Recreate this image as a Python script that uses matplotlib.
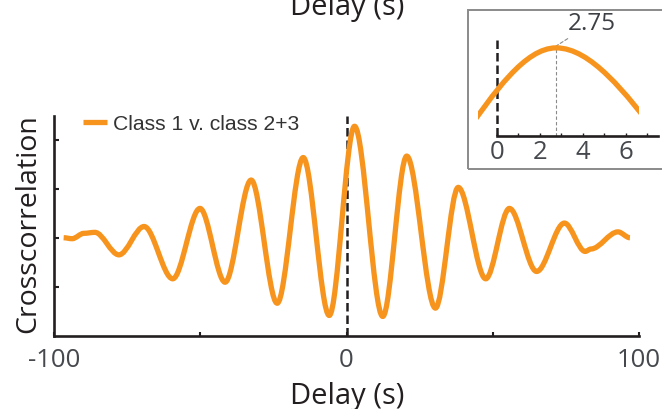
import matplotlib
matplotlib.use("Agg")
import matplotlib.pyplot as plt
from matplotlib.path import Path
from matplotlib.patches import PathPatch, Rectangle
from matplotlib.lines import Line2D

# Crosscorrelation extrema (delay in s, correlation value)
delay_s = [-96.7, -93.8, -89.8, -86.0, -77.8, -69.2, -59.4, -50.1, -41.5, -32.6,
           -23.7, -14.8, -5.9, 2.75, 12.4, 20.6, 30.4, 38.2, 47.6, 55.7,
           65.0, 74.5, 81.6, 83.6, 92.8, 96.9]
xcorr = [0.001, -0.001, 0.010, 0.012, -0.034, 0.024, -0.083, 0.061, -0.090, 0.119,
         -0.133, 0.165, -0.158, 0.229, -0.160, 0.168, -0.143, 0.104, -0.083, 0.061,
         -0.068, 0.031, -0.027, -0.022, 0.013, 0.001]

series_label = "Class 1 v. class 2+3"
peak_delay = 2.75
x_ticks = [-100, -50, 0, 50, 100]
x_tick_labels = ["-100", "", "0", "", "100"]
y_ticks = [-0.1, 0.0, 0.1, 0.2]
inset_ticks = [0, 1, 2, 3, 4, 5, 6, 7]
inset_tick_labels = ["0", "", "2", "", "4", "", "6", ""]

ORANGE = "#F7941D"
INK = "#231F20"
GREY_TXT = "#45484D"
SANS = ["Open Sans", "DejaVu Sans"]

W, H = 662, 410
fig = plt.figure(figsize=(W / 100, H / 100), dpi=100)


def fx(px):
    return px / W


def fy(py):
    return 1 - py / H


def smooth_path(xs, ys):
    """Cubic Bezier through the extrema with flat tangents at each one."""
    verts = [(xs[0], ys[0])]
    codes = [Path.MOVETO]
    for i in range(len(xs) - 1):
        h = xs[i + 1] - xs[i]
        verts += [(xs[i] + h / 3, ys[i]), (xs[i + 1] - h / 3, ys[i + 1]),
                  (xs[i + 1], ys[i + 1])]
        codes += [Path.CURVE4] * 3
    return Path(verts, codes)


# ---------------- main axes ----------------
ax = fig.add_axes([fx(54), fy(337), fx(639 - 54), (337 - 117) / H])
ax.set_xlim(-100, 100)
ax.set_ylim(-0.2, 0.25)
for s in ("top", "right"):
    ax.spines[s].set_visible(False)
for s in ("left", "bottom"):
    ax.spines[s].set_color(INK)
    ax.spines[s].set_linewidth(1.9)

ax.set_xticks(x_ticks)
ax.set_xticklabels(x_tick_labels, fontfamily=SANS, fontsize=18.5, color=GREY_TXT)
ax.set_yticks(y_ticks)
ax.set_yticklabels([])
ax.tick_params(axis="x", direction="in", length=2.8, width=1.5, color=INK, pad=8)
ax.tick_params(axis="y", direction="in", length=3.8, width=1.5, color=INK)

ax.axvline(0, color=INK, lw=1.8, linestyle=(0, (3.4, 1.6)), zorder=3)
ax.add_patch(PathPatch(smooth_path(delay_s, xcorr), transform=ax.transData,
                       fill=False, edgecolor=ORANGE, lw=3.8, joinstyle="round",
                       capstyle="butt", zorder=4))

proxy = Line2D([], [], color=ORANGE, lw=3.8, solid_capstyle="butt")
ax.legend([proxy], [series_label], loc="center left",
          bbox_to_anchor=(fx(83), fy(125)), bbox_transform=fig.transFigure,
          frameon=False, borderpad=0, borderaxespad=0, handlelength=1.15,
          handletextpad=0.29,
          prop={"family": ["Liberation Sans", "DejaVu Sans"], "size": 15.2},
          labelcolor="#333333")

fig.text(fx(28), fy(224), "Crosscorrelation", rotation=90, ha="center",
         va="center", fontfamily=SANS, fontsize=20.5, color=INK)
fig.text(fx(347.5), fy(404), "Delay (s)", ha="center", va="baseline",
         fontfamily=SANS, fontsize=21, color=INK)
# axis title of the panel above, cut by the figure edge
fig.text(fx(347.5), fy(15), "Delay (s)", ha="center", va="baseline",
         fontfamily=SANS, fontsize=21, color=INK)

# ---------------- inset around the peak ----------------
fig.patches.append(Rectangle((fx(468), fy(170)), 0.5, (170 - 11) / H,
                             transform=fig.transFigure, fill=False,
                             edgecolor="#8A8A8A", lw=1.4))

axins = fig.add_axes([fx(470.1), fy(137), fx(658.25 - 470.1), (137 - 38) / H])
axins.set_xlim(-1.25, 7.5)
axins.set_ylim(0.037, 0.2527)
axins.patch.set_alpha(0)
for s in ("top", "right", "left"):
    axins.spines[s].set_visible(False)
axins.spines["bottom"].set_bounds(0, 7.5)
axins.spines["bottom"].set_color(INK)
axins.spines["bottom"].set_linewidth(1.9)
axins.set_xticks(inset_ticks)
axins.set_xticklabels(inset_tick_labels, fontfamily=SANS, fontsize=18.5,
                      color=GREY_TXT)
axins.set_yticks([])
axins.tick_params(axis="x", direction="in", length=2.4, width=1.0, color=INK,
                  pad=2.5)

axins.axvline(0, color=INK, lw=1.8, linestyle=(0, (3.4, 1.6)), zorder=3)
peak_val = xcorr[delay_s.index(peak_delay)]
axins.plot([peak_delay, peak_delay], [0.037, peak_val], color="#8A8A8A",
           lw=0.8, linestyle=(0, (3, 2)), zorder=2)
inset_curve = PathPatch(smooth_path(delay_s, xcorr), transform=axins.transData,
                        fill=False, edgecolor=ORANGE, lw=3.8, joinstyle="round",
                        capstyle="butt", zorder=4)
axins.add_patch(inset_curve)
clip = Rectangle((-0.9, -1), 7.5, 2, transform=axins.transData)
inset_curve.set_clip_path(clip)

axins.annotate(f"{peak_delay:.2f}", xy=(peak_delay, peak_val + 0.004),
               xytext=(3.3, 0.283), textcoords="data", ha="left", va="center",
               fontfamily=SANS, fontsize=17.5, color="#3C3F44",
               annotation_clip=False,
               arrowprops=dict(arrowstyle="-", color="#8A8A8A", lw=0.8,
                               linestyle=(0, (3, 2)), shrinkA=1, shrinkB=0))

fig.savefig("out.png", dpi=100)
